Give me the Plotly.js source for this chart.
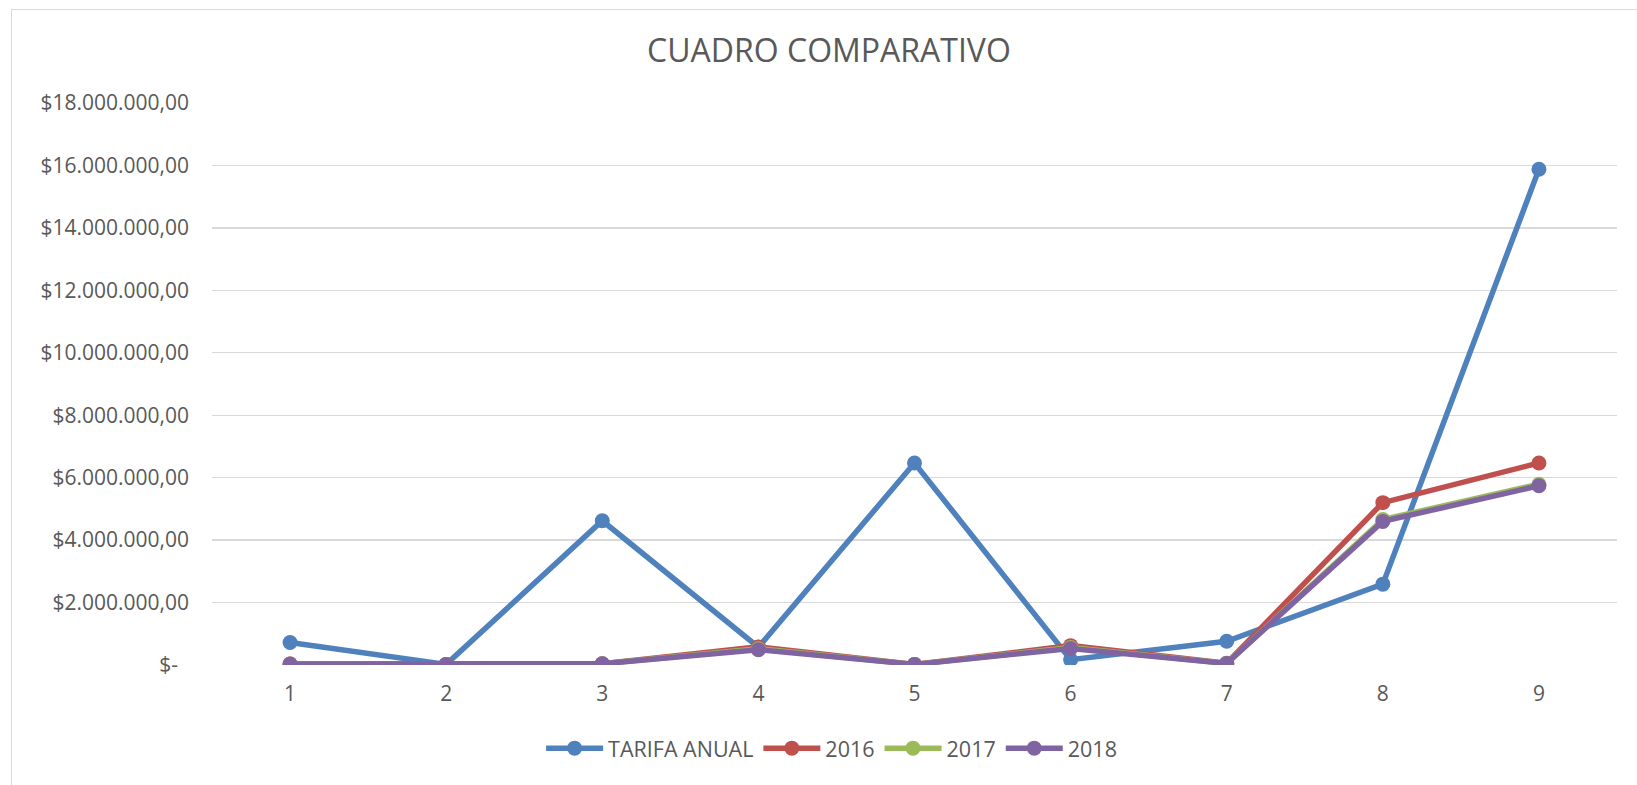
<!DOCTYPE html>
<html>
<head>
<meta charset="utf-8">
<script src="https://cdn.plot.ly/plotly-3.0.1.min.js"></script>
<style>
  html, body { margin: 0; padding: 0; background: #ffffff; }
  #chart { width: 1637px; height: 785px; position: absolute; left: 0; top: 0; }
  #frame { position: absolute; left: 11px; top: 9px; width: 1700px; height: 900px;
           border-left: 1px solid #d9d9d9; border-top: 1px solid #d9d9d9; pointer-events: none; }
</style>
</head>
<body>
<div id="chart"></div>
<div id="frame"></div>
<script>
const categories = [1, 2, 3, 4, 5, 6, 7, 8, 9];
const seriesNames = ["TARIFA ANUAL", "2016", "2017", "2018"];
const tarifaAnual = [720000, 20000, 4620000, 570000, 6470000, 170000, 760000, 2590000, 15880000];
const values2016 = [30000, 20000, 40000, 580000, 20000, 620000, 60000, 5200000, 6470000];
const values2017 = [30000, 20000, 40000, 520000, 20000, 560000, 50000, 4660000, 5790000];
const values2018 = [30000, 20000, 40000, 490000, 20000, 530000, 50000, 4600000, 5740000];
const yTickVals = [0, 2000000, 4000000, 6000000, 8000000, 10000000, 12000000, 14000000, 16000000, 18000000];
const yTickText = ["$-\u00a0\u00a0", "$2.000.000,00", "$4.000.000,00", "$6.000.000,00", "$8.000.000,00",
                   "$10.000.000,00", "$12.000.000,00", "$14.000.000,00", "$16.000.000,00", "$18.000.000,00"];

const colors = ["#4f81bd", "#c0504d", "#9bbb59", "#8064a2"];
const allValues = [tarifaAnual, values2016, values2017, values2018];

const traces = allValues.map((vals, i) => ({
  type: "scatter",
  mode: "lines+markers",
  name: seriesNames[i],
  x: categories,
  y: vals,
  line: { color: colors[i], width: 5.5 },
  marker: { color: colors[i], size: 15 }
}));

const fontFamily = "'Open Sans', 'Noto Sans', sans-serif";
const layout = {
  width: 1637,
  height: 785,
  paper_bgcolor: "#ffffff",
  plot_bgcolor: "#ffffff",
  margin: { l: 212, r: 20, t: 103, b: 120 },
  font: { family: fontFamily, color: "#595959", size: 21 },
  title: {
    text: "CUADRO COMPARATIVO",
    font: { family: fontFamily, size: 32, color: "#595959" },
    x: 0.5064, xref: "container", xanchor: "center",
    y: 1 - 51 / 785, yref: "container", yanchor: "middle"
  },
  showlegend: true,
  legend: {
    orientation: "h",
    x: 0.441, xanchor: "center",
    y: -0.148, yanchor: "middle",
    font: { family: fontFamily, size: 21.5, color: "#595959" },
    itemwidth: 57,
    traceorder: "normal"
  },
  hovermode: false,
  xaxis: {
    type: "linear",
    range: [0.5, 9.5],
    tickvals: categories,
    ticktext: categories.map(String),
    showgrid: false,
    zeroline: false,
    showline: false,
    ticks: "",
    ticklabelstandoff: 14,
    tickfont: { family: fontFamily, size: 21, color: "#595959" },
    fixedrange: true
  },
  yaxis: {
    range: [0, 18000000],
    tickvals: yTickVals,
    ticktext: yTickText,
    showgrid: true,
    gridcolor: "#d9d9d9",
    gridwidth: 1.3,
    zeroline: false,
    showline: false,
    ticks: "",
    ticklabelstandoff: 22,
    tickfont: { family: fontFamily, size: 21, color: "#595959" },
    fixedrange: true
  }
};

Plotly.newPlot("chart", traces, layout, { staticPlot: true, displayModeBar: false });
</script>
</body>
</html>
